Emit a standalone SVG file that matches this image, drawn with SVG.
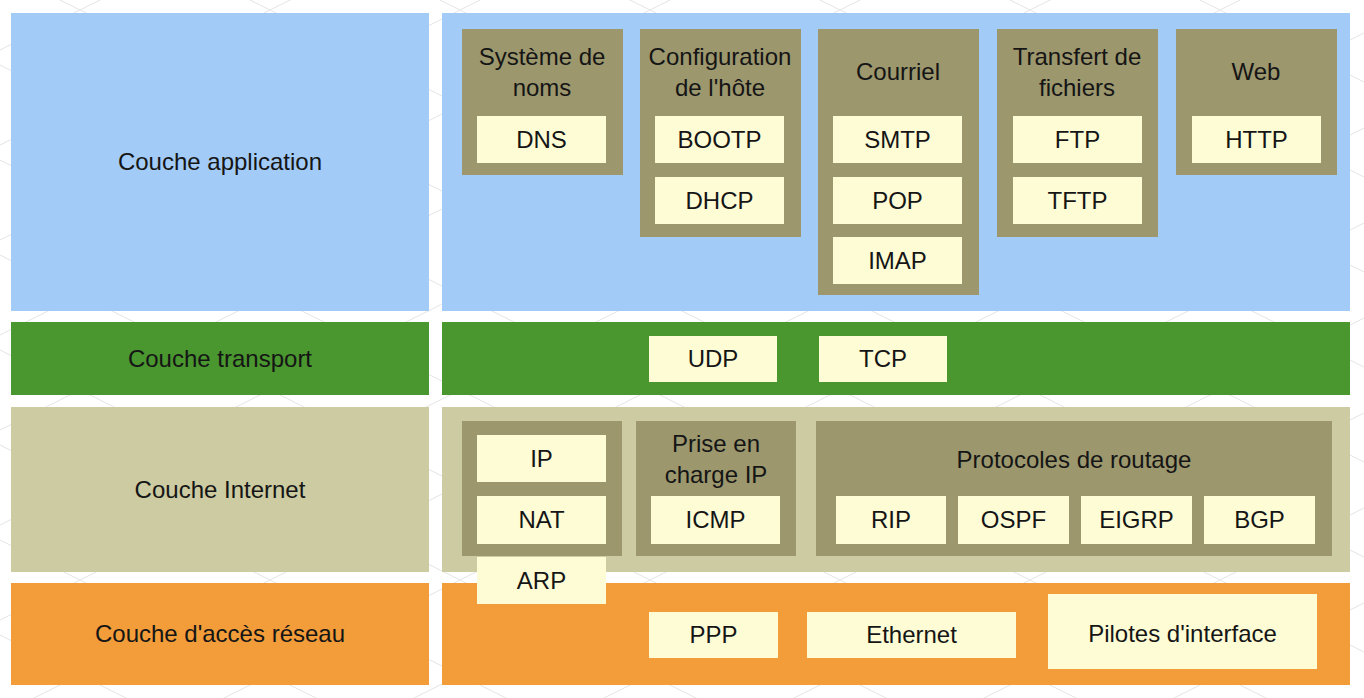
<svg xmlns="http://www.w3.org/2000/svg" width="1364" height="698" viewBox="0 0 1364 698">
<defs>
<pattern id="bgpat" x="80" y="10" width="190" height="95" patternUnits="userSpaceOnUse">
<path d="M0,0 L95,47.5 L190,0 M0,95 L95,47.5 L190,95" fill="none" stroke="#e4e4e4" stroke-width="1"/>
</pattern>
</defs>
<style>
text{font-family:"Liberation Sans",Arial,Helvetica,sans-serif;font-size:24px;fill:#151515;text-anchor:middle}
.app{fill:#a3cbf7}
.tr{fill:#4a962f}
.inet{fill:#cccba1}
.acc{fill:#f29c3a}
.grp{fill:#9c976d}
.box{fill:#fdfcd5}
</style>
<rect x="0" y="0" width="1364" height="698" fill="#ffffff"/>
<rect x="0" y="0" width="1364" height="698" fill="url(#bgpat)"/>

<g id="layer-application">
<rect class="app" x="11" y="13" width="418" height="298"/>
<text x="220" y="170">Couche application</text>
<rect class="app" x="442" y="13" width="908" height="298"/>
</g>

<g id="grp-noms">
<rect class="grp" x="462" y="29" width="161" height="146"/>
<text x="542" y="65">Système de</text>
<text x="542" y="96">noms</text>
</g>
<g id="dns"><rect class="box" x="477" y="116" width="129" height="47"/><text x="541.5" y="148">DNS</text></g>

<g id="grp-config">
<rect class="grp" x="640" y="29" width="161" height="208"/>
<text x="720" y="65">Configuration</text>
<text x="720" y="96">de l'hôte</text>
</g>
<g id="bootp"><rect class="box" x="655" y="116" width="129" height="47"/><text x="719.5" y="148">BOOTP</text></g>
<g id="dhcp"><rect class="box" x="655" y="177" width="129" height="47"/><text x="719.5" y="209">DHCP</text></g>

<g id="grp-courriel">
<rect class="grp" x="818" y="29" width="161" height="266"/>
<text x="898" y="80">Courriel</text>
</g>
<g id="smtp"><rect class="box" x="833" y="116" width="129" height="47"/><text x="897.5" y="148">SMTP</text></g>
<g id="pop"><rect class="box" x="833" y="177" width="129" height="47"/><text x="897.5" y="209">POP</text></g>
<g id="imap"><rect class="box" x="833" y="237" width="129" height="47"/><text x="897.5" y="269">IMAP</text></g>

<g id="grp-transfert">
<rect class="grp" x="997" y="29" width="161" height="208"/>
<text x="1077" y="65">Transfert de</text>
<text x="1077" y="96">fichiers</text>
</g>
<g id="ftp"><rect class="box" x="1013" y="116" width="129" height="47"/><text x="1077.5" y="148">FTP</text></g>
<g id="tftp"><rect class="box" x="1013" y="177" width="129" height="47"/><text x="1077.5" y="209">TFTP</text></g>

<g id="grp-web">
<rect class="grp" x="1176" y="29" width="161" height="146"/>
<text x="1256" y="80">Web</text>
</g>
<g id="http"><rect class="box" x="1192" y="116" width="129" height="47"/><text x="1256.5" y="148">HTTP</text></g>

<g id="layer-transport">
<rect class="tr" x="11" y="322" width="418" height="73"/>
<text x="220" y="367">Couche transport</text>
<rect class="tr" x="442" y="322" width="908" height="73"/>
</g>
<g id="udp"><rect class="box" x="649" y="336" width="128" height="46"/><text x="713" y="367">UDP</text></g>
<g id="tcp"><rect class="box" x="819" y="336" width="128" height="46"/><text x="883" y="367">TCP</text></g>

<g id="layer-internet">
<rect class="inet" x="11" y="407" width="418" height="165"/>
<text x="220" y="498">Couche Internet</text>
<rect class="inet" x="442" y="407" width="908" height="165"/>
</g>

<g id="layer-acces">
<rect class="acc" x="11" y="583" width="418" height="102"/>
<text x="220" y="642">Couche d'accès réseau</text>
<rect class="acc" x="442" y="583" width="908" height="102"/>
</g>

<g id="grp-ip">
<rect class="grp" x="462" y="421" width="160" height="135"/>
</g>
<g id="ip"><rect class="box" x="477" y="435" width="129" height="47"/><text x="541.5" y="467">IP</text></g>
<g id="nat"><rect class="box" x="477" y="496" width="129" height="48"/><text x="541.5" y="528">NAT</text></g>
<g id="arp"><rect class="box" x="477" y="557" width="129" height="47"/><text x="541.5" y="589">ARP</text></g>

<g id="grp-prise">
<rect class="grp" x="636" y="421" width="160" height="135"/>
<text x="716" y="452">Prise en</text>
<text x="716" y="483">charge IP</text>
</g>
<g id="icmp"><rect class="box" x="651" y="496" width="129" height="48"/><text x="715.5" y="528">ICMP</text></g>

<g id="grp-routage">
<rect class="grp" x="816" y="421" width="516" height="135"/>
<text x="1074" y="468">Protocoles de routage</text>
</g>
<g id="rip"><rect class="box" x="836" y="496" width="110" height="48"/><text x="891" y="528">RIP</text></g>
<g id="ospf"><rect class="box" x="958" y="496" width="111" height="48"/><text x="1013.5" y="528">OSPF</text></g>
<g id="eigrp"><rect class="box" x="1081" y="496" width="111" height="48"/><text x="1136.5" y="528">EIGRP</text></g>
<g id="bgp"><rect class="box" x="1204" y="496" width="111" height="48"/><text x="1259.5" y="528">BGP</text></g>

<g id="ppp"><rect class="box" x="649" y="612" width="129" height="46"/><text x="713.5" y="643">PPP</text></g>
<g id="ethernet"><rect class="box" x="807" y="612" width="209" height="46"/><text x="911.5" y="643">Ethernet</text></g>
<g id="pilotes"><rect class="box" x="1048" y="594" width="269" height="75"/><text x="1182.5" y="642">Pilotes d'interface</text></g>

<g id="connectors"></g>
</svg>
